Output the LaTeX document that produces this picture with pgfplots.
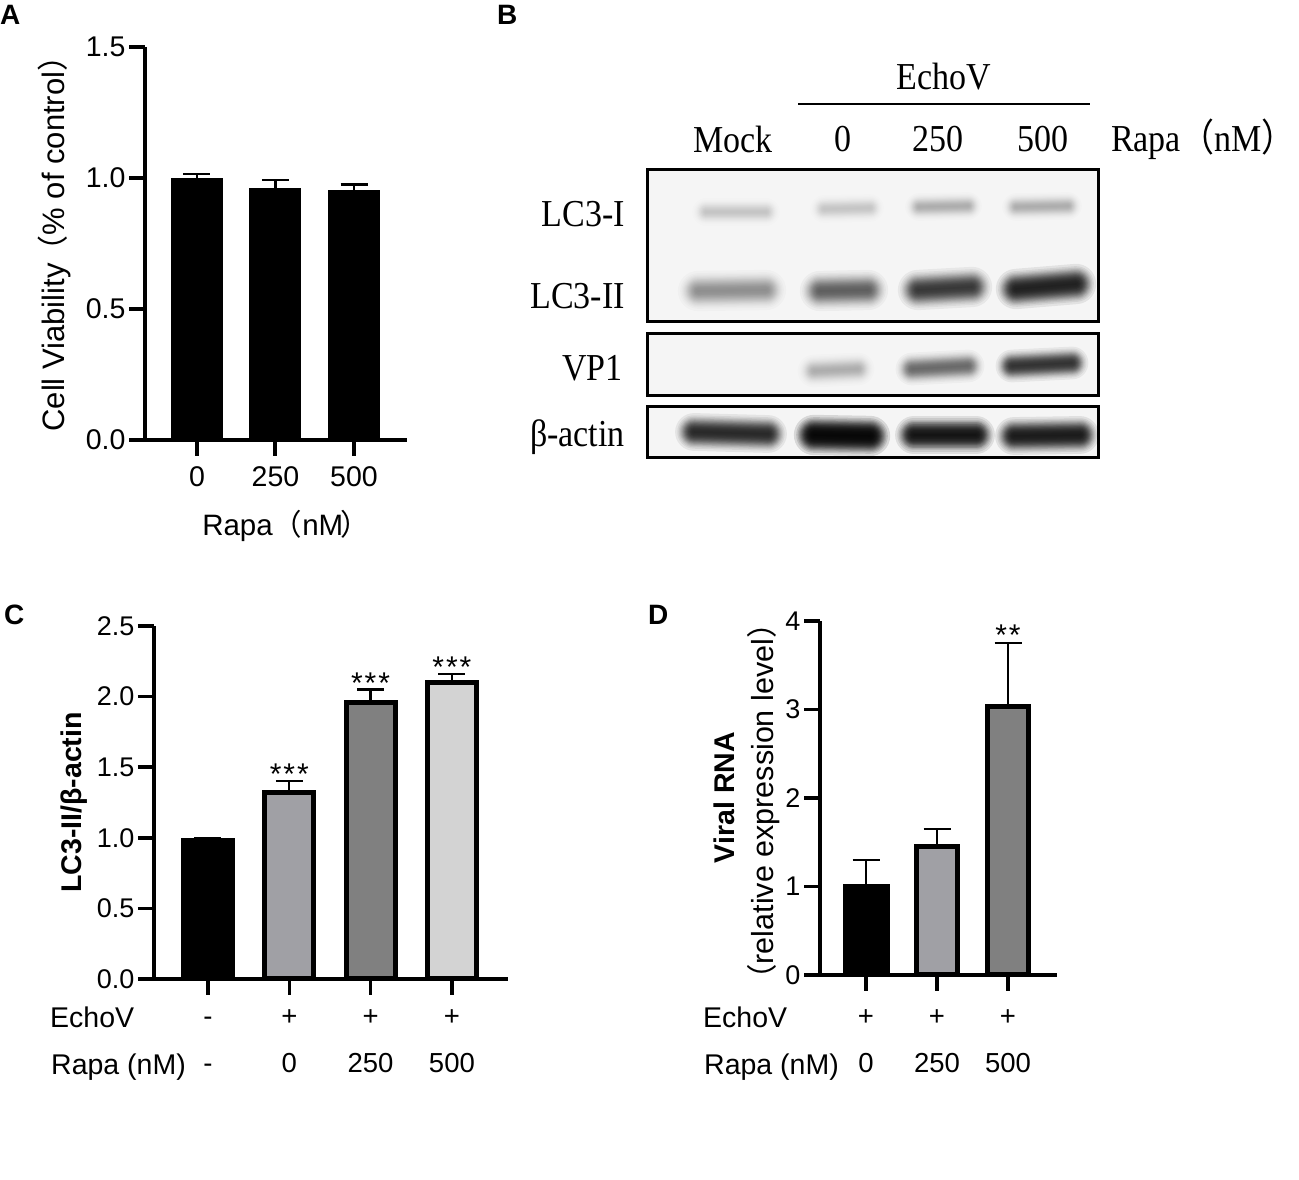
\documentclass[border=0pt]{standalone}
\usepackage{fontspec}
\setmainfont{Liberation Sans}
\newfontfamily\serif{Liberation Serif}
\newfontfamily\cjk{Noto Sans CJK SC}
\usepackage{pgfplots}
\pgfplotsset{compat=1.18}

\definecolor{barmid}{HTML}{A0A0A5}
\definecolor{bardark}{HTML}{808080}
\definecolor{barlight}{HTML}{D3D3D3}

\newcommand{\fs}[1]{\fontsize{#1}{#1}\selectfont}
\newcommand{\fp}[1]{{\cjk #1}}
\newcommand{\row}{\vphantom{0}}

% one px of the reference is one pt here
\pgfplotsset{
  panel/.style={
    scale only axis,
    axis x line*=bottom, axis y line*=left,
    axis line style={line width=4pt,black},
    tick style={line width=4pt,black},
    tick align=outside,
    major tick length=16pt,
    ymin=0,
    tick label style={font=\fs{#1}},
    /pgf/number format/assume math mode=true,
    clip=false,
  },
  onebar/.style 2 args={
    ybar, bar shift=0pt, bar width=#1, draw=black, fill=#2, line width=5pt,
    error bars/.cd, y dir=plus, y explicit,
    error bar style={line width=2.2pt,black},
    error mark options={rotate=90,mark size=13.5pt,line width=2.2pt,black},
  },
  blackbar/.style={
    ybar, bar shift=0pt, bar width=#1, draw=none, fill=black,
    error bars/.cd, y dir=plus, y explicit,
    error bar style={line width=2.2pt,black},
    error mark options={rotate=90,mark size=13.5pt,line width=2.2pt,black},
  },
  blot/.style={
    scale only axis, y dir=reverse,
    xtick=\empty, ytick=\empty,
    axis on top,
    axis line style={line width=3pt,black},
    axis background/.style={fill=black!4},
    xmin=647, xmax=1098,
  },
}

% soft band: stacked translucent strokes; x1 x2 y1 y2 thickness opacity
\newcommand{\band}[6]{%
  \pgfplotsinvokeforeach{2.52,2.23,2.04,1.89,1.77,1.67,1.57,1.48,1.40,1.32,1.25,1.18,1.11,1.04,0.97,0.90,0.83,0.76,0.68,0.60,0.52,0.42,0.29,0.1}{%
    \addplot[forget plot, no marks, black, line cap=round,
      line width={#5*##1}, draw opacity=#6] coordinates {(#1,#3) (#2,#4)};
  }%
}

\begin{document}
\begin{tikzpicture}[x=1pt,y=1pt]
\useasboundingbox[fill=white] (0,0) rectangle (1299,1180);

% --- A ---
\begin{axis}[panel=28.5, at={(145pt,740pt)}, anchor=south west,
    width=262pt, height=393pt,
    xmin=-0.662, xmax=2.675, ymax=1.5,
    ytick={0,0.5,1,1.5},
    yticklabel style={/pgf/number format/.cd,fixed,fixed zerofill,precision=1,assume math mode=true},
    xtick={0,1,2}, xticklabels={0,250,500},
    xticklabel style={yshift=-7pt},
    xlabel={Rapa\fp{（}nM\hspace{-3pt}\fp{）}}, xlabel style={font=\fs{29.5}, yshift=-17pt, xshift=10pt},
    ylabel={Cell Viability\hspace{-3pt}\fp{（}\% of control\fp{）}},
    ylabel style={font=\fs{31}, yshift=8pt, at={(ticklabel cs:0.519)}},
  ]
  \addplot[blackbar=52pt] coordinates {(0,1.0) +- (0,0.015)};
  \addplot[blackbar=52pt] coordinates {(1,0.96) +- (0,0.032)};
  \addplot[blackbar=52pt] coordinates {(2,0.955) +- (0,0.02)};
\end{axis}

% --- B ---
\begin{axis}[blot, at={(647pt,858pt)}, anchor=south west, width=451pt, height=152pt,
    ymin=170, ymax=322]
  \band{706}{766}{212}{212}{11}{0.006}
  \band{824}{870}{209}{208}{11}{0.008}
  \band{919}{968}{207}{206}{11}{0.011}
  \band{1016}{1068}{207}{206}{11}{0.010}
  \band{698}{766}{291}{290}{16}{0.019}
  \band{820}{868}{291}{290}{16}{0.036}
  \band{918}{972}{290}{287}{16}{0.054}
  \band{1016}{1076}{289}{284}{16}{0.073}
\end{axis}
\begin{axis}[blot, at={(647pt,784pt)}, anchor=south west, width=451pt, height=62pt,
    ymin=334, ymax=396]
  \band{814}{858}{371}{369}{13}{0.012}
  \band{912}{968}{369}{366}{13}{0.03}
  \band{1012}{1072}{366}{363}{13}{0.058}
\end{axis}
\begin{axis}[blot, at={(647pt,722pt)}, anchor=south west, width=451pt, height=51pt,
    ymin=407, ymax=458]
  \band{694}{768}{432}{434}{15}{0.066}
  \band{814}{870}{435}{436}{16}{0.122}
  \band{914}{976}{435}{435}{15}{0.089}
  \band{1014}{1080}{436}{435}{15}{0.084}
\end{axis}

\begin{scope}[every node/.style={font=\serif\fs{34},inner sep=0pt}]
  \node at (944,1103) {\scalebox{1}[1.12]{EchoV}};
  \draw[line width=1.5pt] (798,1076) -- (1090,1076);
  \node at (733,1041) {\scalebox{1}[1.12]{Mock}};
  \node at (843,1041) {\scalebox{1}[1.12]{0}};
  \node at (938,1041) {\scalebox{1}[1.12]{250}};
  \node at (1043,1041) {\scalebox{1}[1.12]{500}};
  \node[anchor=west] at (1111,1041) {\scalebox{1}[1.12]{Rapa\hspace{-9pt} \fp{（}nM\fp{）}}};
  \node[anchor=east] at (625,966) {\scalebox{1}[1.12]{LC3-I}};
  \node[anchor=east] at (625,884) {\scalebox{1}[1.12]{LC3-II}};
  \node[anchor=east] at (623,812) {\scalebox{1}[1.12]{VP1}};
  \node[anchor=east] at (625,743) {\scalebox{1}[1.12]{β-actin}};
\end{scope}

% --- C ---
\begin{axis}[panel=27, at={(154pt,201pt)}, anchor=south west,
    width=354pt, height=353pt,
    axis line style={line width=3.5pt,black}, tick style={line width=3.5pt,black},
    xmin=-0.664, xmax=3.69, ymax=2.5,
    ytick={0,0.5,1,1.5,2,2.5},
    yticklabel style={/pgf/number format/.cd,fixed,fixed zerofill,precision=1,assume math mode=true},
    xtick={0,1,2,3}, xticklabels={{\row-\\\row-},{\row+\\0},{\row+\\250},{\row+\\500}},
    xticklabel style={align=center, font=\fontsize{27.5}{47}\selectfont, yshift=-8pt},
    ylabel={\bfseries LC3-II/β-actin}, ylabel style={font=\fs{28.5}, yshift=3pt},
  ]
  \addplot[blackbar=54pt] coordinates {(0,1.0) +- (0,0.0)};
  \addplot[onebar={49pt}{barmid}] coordinates {(1,1.32) +- (0,0.08)};
  \addplot[onebar={49pt}{bardark}] coordinates {(2,1.96) +- (0,0.09)};
  \addplot[onebar={49pt}{barlight}] coordinates {(3,2.10) +- (0,0.06)};
  \node[font=\fs{30},anchor=base] at (axis cs:1,1.378) {*\kern2pt*\kern2pt*};
  \node[font=\fs{30},anchor=base] at (axis cs:2,2.022) {*\kern2pt*\kern2pt*};
  \node[font=\fs{30},anchor=base] at (axis cs:3,2.135) {*\kern2pt*\kern2pt*};
\end{axis}
\node[font=\fs{28.5},anchor=base west,inner sep=0pt] at (50,152) {EchoV};
\node[font=\fs{28.5},anchor=base west,inner sep=0pt] at (51,105) {Rapa (nM)};

% --- D ---
\begin{axis}[panel=27, at={(820pt,205pt)}, anchor=south west,
    width=237pt, height=354pt,
    axis line style={line width=3.5pt,black}, tick style={line width=3.5pt,black},
    xmin=-0.648, xmax=2.69, ymax=4,
    ytick={0,1,2,3,4},
    xtick={0,1,2}, xticklabels={{\row+\\0},{\row+\\250},{\row+\\500}},
    xticklabel style={align=center, font=\fontsize{27.5}{47}\selectfont, yshift=-12pt},
    ylabel={\bfseries\fs{28.5} Viral RNA\\[11pt]\fs{30.5}\fp{（}relative expression level\fp{）}},
    ylabel style={align=center, yshift=-1pt, at={(ticklabel cs:0.49)}},
  ]
  \addplot[blackbar=47pt] coordinates {(0,1.03) +- (0,0.27)};
  \addplot[onebar={41pt}{barmid}] coordinates {(1,1.45) +- (0,0.20)};
  \addplot[onebar={41pt}{bardark}] coordinates {(2,3.03) +- (0,0.72)};
  \node[font=\fs{30},anchor=base] at (axis cs:2,3.72) {*\kern2pt*};
\end{axis}
\node[font=\fs{28.5},anchor=base west,inner sep=0pt] at (703,152) {EchoV};
\node[font=\fs{28.5},anchor=base west,inner sep=0pt] at (704,105) {Rapa (nM)};

% panel letters
\node[font=\bfseries\fs{28},anchor=base west,inner sep=0pt] at (0,1155) {A};
\node[font=\bfseries\fs{28},anchor=base west,inner sep=0pt] at (497,1155) {B};
\node[font=\bfseries\fs{28},anchor=base west,inner sep=0pt] at (4,555) {C};
\node[font=\bfseries\fs{28},anchor=base west,inner sep=0pt] at (648,555) {D};
\end{tikzpicture}
\end{document}
